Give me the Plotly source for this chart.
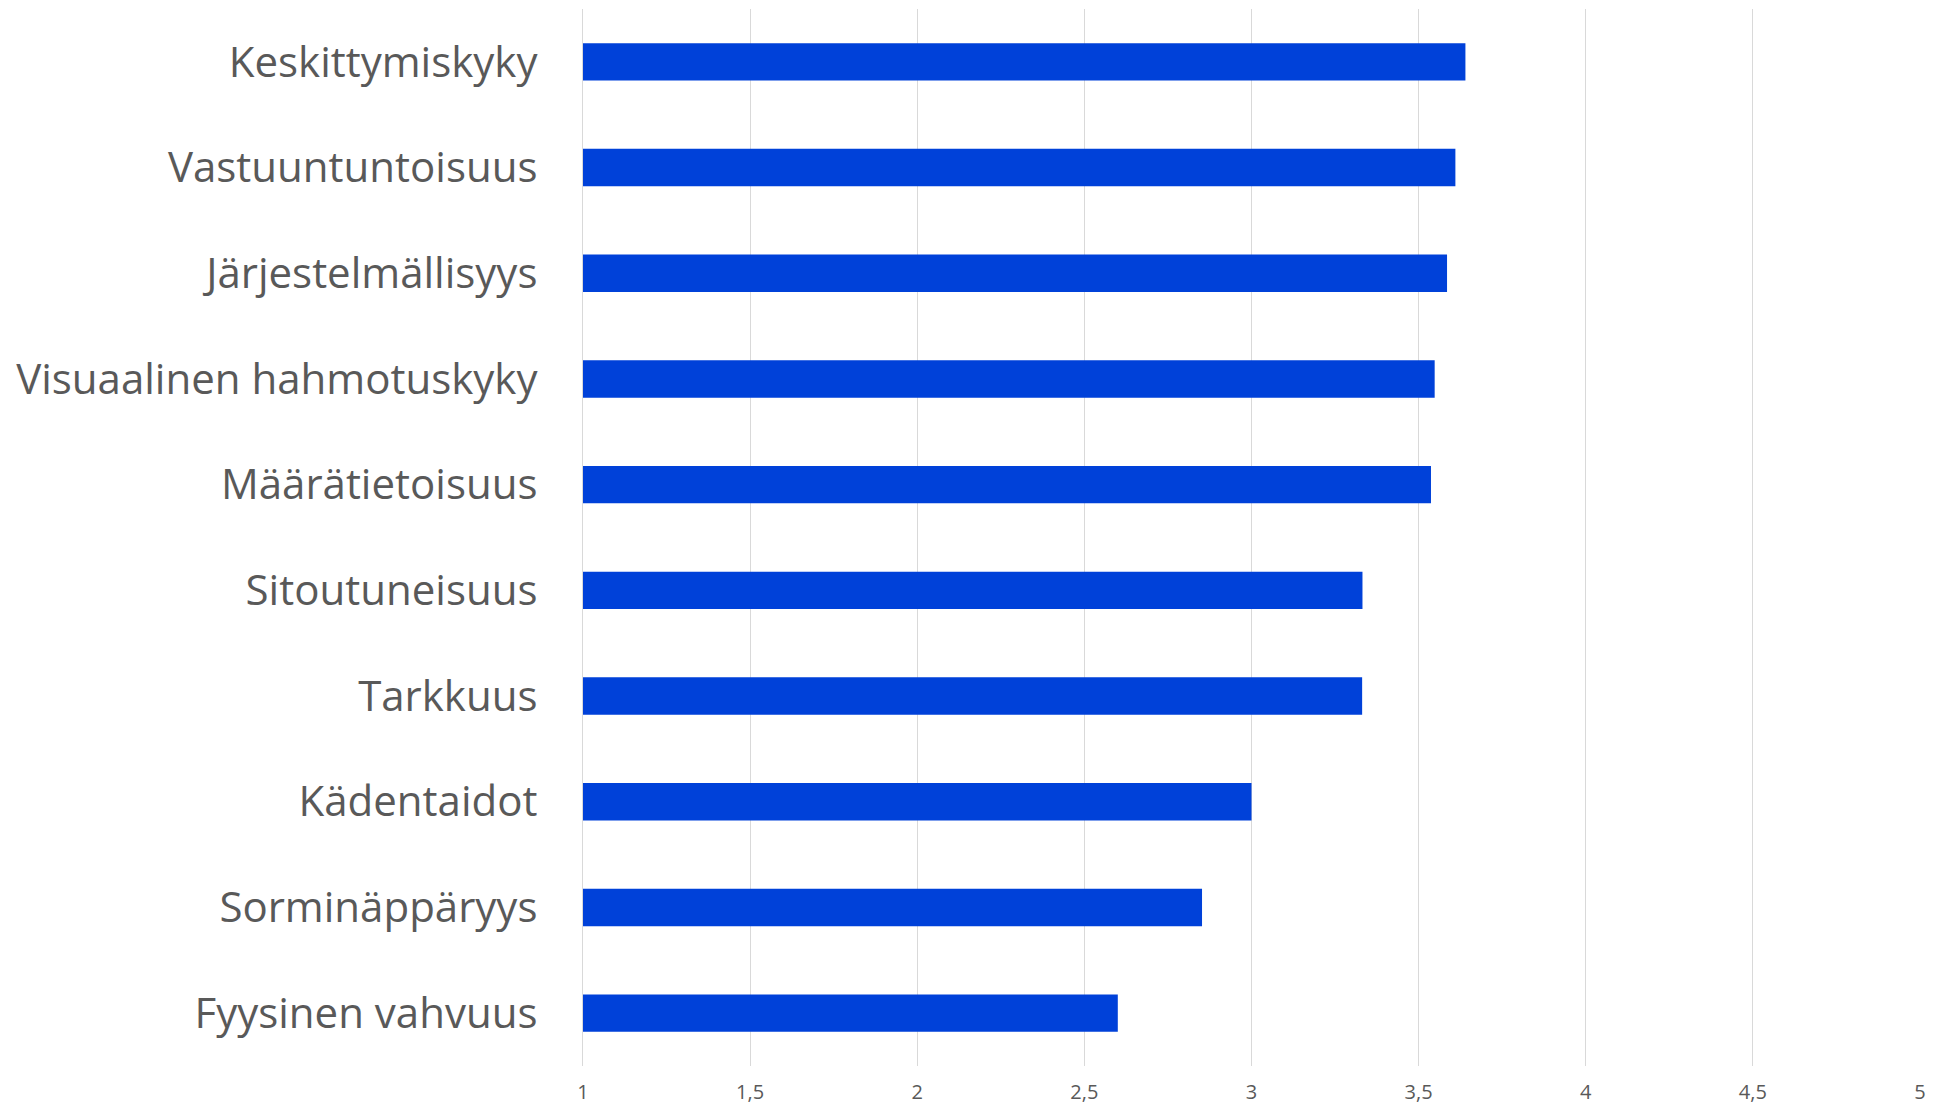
import plotly.graph_objects as go

categories = [
    "Keskittymiskyky",
    "Vastuuntuntoisuus",
    "Järjestelmällisyys",
    "Visuaalinen hahmotuskyky",
    "Määrätietoisuus",
    "Sitoutuneisuus",
    "Tarkkuus",
    "Kädentaidot",
    "Sorminäppäryys",
    "Fyysinen vahvuus",
]
values = [3.64, 3.61, 3.585, 3.548, 3.537, 3.332, 3.331, 3.0, 2.852, 2.6]
x_ticks = [1, 1.5, 2, 2.5, 3, 3.5, 4, 4.5, 5]

fig = go.Figure(
    go.Bar(
        x=values,
        y=categories,
        orientation="h",
        base=0,
        marker=dict(color="#0041D9", line=dict(width=0)),
        width=0.354,
    )
)

# page body has an 8px default margin; figure sized to fit the window
fig.update_layout(
    width=1931,
    height=1099,
    margin=dict(l=575, r=19, t=1, b=41),
    paper_bgcolor="white",
    plot_bgcolor="white",
    separators=", ",
    showlegend=False,
    font=dict(family="Open Sans", color="#595959"),
)

fig.update_xaxes(
    range=[1, 5],
    tickvals=x_ticks,
    automargin=False,
    showgrid=True,
    gridcolor="#d9d9d9",
    gridwidth=1.3,
    zeroline=False,
    showline=False,
    ticks="outside",
    ticklen=8,
    tickcolor="rgba(0,0,0,0)",
    tickfont=dict(size=20, color="#595959"),
)

fig.update_yaxes(
    categoryorder="array",
    categoryarray=categories,
    autorange="reversed",
    automargin=False,
    showgrid=False,
    zeroline=False,
    showline=True,
    linecolor="#d9d9d9",
    linewidth=1.3,
    ticks="outside",
    ticklen=36,
    tickcolor="rgba(0,0,0,0)",
    tickfont=dict(size=42, color="#595959"),
)

fig.write_html("out.html")
